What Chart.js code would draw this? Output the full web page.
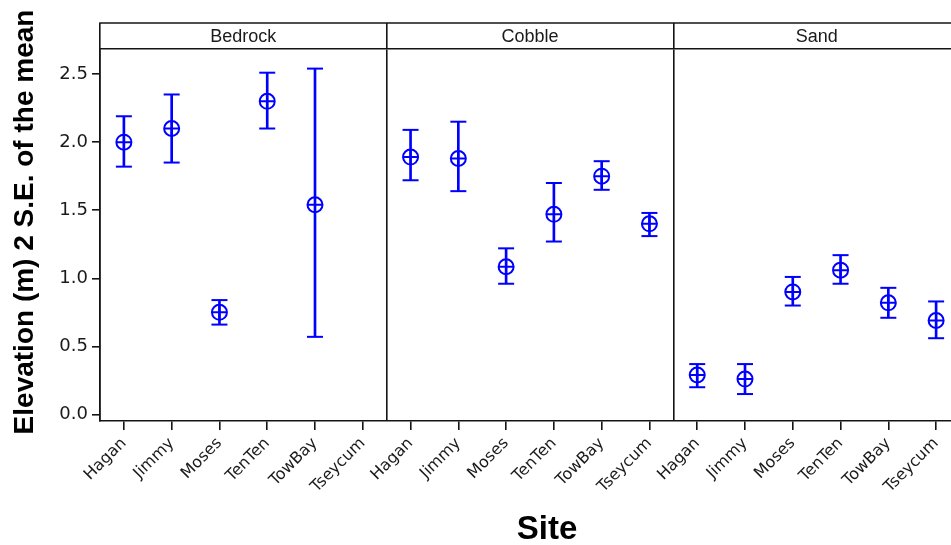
<!DOCTYPE html>
<html>
<head>
<meta charset="utf-8">
<title>Elevation by site and substrate</title>
<script src="https://cdn.jsdelivr.net/npm/chart.js@4.4.1/dist/chart.umd.min.js"></script>
<style>
  html, body { margin: 0; padding: 0; background: #fff; overflow: hidden; }
  #wrap { position: relative; width: 1094px; height: 545px; }
</style>
</head>
<body>
<div id="wrap"><canvas id="chart"></canvas></div>
<script>
// Substrate panels and the sites sampled in each
const panels = ['Bedrock', 'Cobble', 'Sand'];
const sites = ['Hagan', 'Jimmy', 'Moses', 'TenTen', 'TowBay', 'Tseycum'];

// Mean elevation (m) with the ends of the ±2 S.E. interval
const bedrockMean = [2.00, 2.10, 0.75, 2.30, 1.54, null];
const bedrockLow  = [1.82, 1.85, 0.66, 2.10, 0.57, null];
const bedrockHigh = [2.19, 2.35, 0.84, 2.51, 2.54, null];

const cobbleMean = [1.89, 1.88, 1.085, 1.47, 1.75, 1.40];
const cobbleLow  = [1.72, 1.64, 0.96, 1.27, 1.65, 1.31];
const cobbleHigh = [2.09, 2.15, 1.22, 1.70, 1.86, 1.48];

const sandMean = [0.29, 0.26, 0.90, 1.06, 0.82, 0.69];
const sandLow  = [0.20, 0.15, 0.80, 0.96, 0.71, 0.56];
const sandHigh = [0.37, 0.37, 1.01, 1.17, 0.93, 0.83];

const yTicks = [0, 0.5, 1.0, 1.5, 2.0, 2.5];
const yTitle = 'Elevation (m) 2 S.E. of the mean';
const xTitle = 'Site';

// One category per site within each panel, panels laid side by side
const labels = panels.flatMap(() => sites);
const means = [...bedrockMean, ...cobbleMean, ...sandMean];
const lows = [...bedrockLow, ...cobbleLow, ...sandLow];
const highs = [...bedrockHigh, ...cobbleHigh, ...sandHigh];
const spans = lows.map((lo, i) => (lo == null ? null : [lo, highs[i]]));

const BLUE = '#0000ff';
const INK = '#141414';

Chart.defaults.font.family = '"DejaVu Sans", Verdana, sans-serif';
Chart.defaults.color = '#1a1a1a';

// Closes the panel strip along its top edge
const stripFrame = {
  id: 'stripFrame',
  afterDraw(chart) {
    const s = chart.scales.panel;
    const ctx = chart.ctx;
    ctx.save();
    ctx.strokeStyle = INK;
    ctx.lineWidth = 1.6;
    ctx.beginPath();
    ctx.moveTo(s.left - 0.8, s.top);
    ctx.lineTo(s.right, s.top);
    ctx.stroke();
    ctx.restore();
  }
};

// Axis titles: the y title is centred on the panels including their strip
const axisTitles = {
  id: 'axisTitles',
  afterDraw(chart) {
    const ctx = chart.ctx;
    const area = chart.chartArea;
    const strip = chart.scales.panel;
    ctx.save();
    ctx.fillStyle = '#000';
    ctx.textAlign = 'center';
    ctx.textBaseline = 'middle';
    ctx.font = 'bold 28px "Liberation Sans", Arial, sans-serif';
    ctx.translate(25, (strip.top + area.bottom) / 2);
    ctx.rotate(-Math.PI / 2);
    ctx.fillText(yTitle, 0, 0);
    ctx.restore();

    ctx.save();
    ctx.fillStyle = '#000';
    ctx.textAlign = 'center';
    ctx.textBaseline = 'alphabetic';
    ctx.font = 'bold 33px "Liberation Sans", Arial, sans-serif';
    ctx.fillText(xTitle, chart.width / 2, chart.height - 6);
    ctx.restore();
  }
};

const pointSet = (data, style, radius) => ({
  type: 'line',
  data,
  showLine: false,
  pointStyle: style,
  pointRadius: radius,
  pointHoverRadius: radius,
  pointBorderWidth: 2,
  pointBorderColor: BLUE,
  pointBackgroundColor: 'rgba(0,0,0,0)',
  borderColor: BLUE
});

new Chart(document.getElementById('chart'), {
  type: 'bar',
  data: {
    labels,
    datasets: [
      { data: spans, backgroundColor: BLUE, borderWidth: 0, barThickness: 2 },
      pointSet(highs, 'line', 8),
      pointSet(lows, 'line', 8),
      pointSet(means, 'circle', 7.5),
      pointSet(means, 'cross', 7.5)
    ]
  },
  options: {
    responsive: true,
    maintainAspectRatio: false,
    animation: false,
    events: [],
    layout: { padding: { top: 23, right: 134, left: 0, bottom: 0 } },
    plugins: { legend: { display: false }, tooltip: { enabled: false } },
    scales: {
      x: {
        type: 'category',
        position: 'bottom',
        offset: true,
        grid: { offset: false, drawOnChartArea: false, tickLength: 9, color: INK, lineWidth: 1.6 },
        border: { display: true, color: INK, width: 1.6 },
        ticks: {
          autoSkip: false,
          minRotation: 45,
          maxRotation: 45,
          padding: 4,
          font: { size: 16 }
        },
        afterFit(scale) { scale.height = 124; }
      },
      panel: {
        type: 'category',
        axis: 'x',
        position: 'top',
        labels: panels,
        offset: true,
        grid: { offset: true, drawOnChartArea: true, drawTicks: true, tickLength: 26, color: INK, lineWidth: 1.6 },
        border: { display: true, color: INK, width: 1.6 },
        ticks: {
          padding: -25,
          font: { family: '"Liberation Sans", Arial, sans-serif', size: 18 }
        },
        afterFit(scale) { scale.height = 26; }
      },
      y: {
        type: 'linear',
        min: -0.048,
        max: 2.684,
        grid: { drawOnChartArea: false, tickLength: 8, color: INK, lineWidth: 1.6 },
        border: { display: true, color: INK, width: 1.6 },
        ticks: {
          padding: 4,
          font: { size: 18 },
          callback: (v) => Number(v).toFixed(1)
        },
        afterBuildTicks(scale) { scale.ticks = yTicks.map((value) => ({ value })); },
        afterFit(scale) { scale.width = 100; }
      }
    }
  },
  plugins: [stripFrame, axisTitles]
});
</script>
</body>
</html>
